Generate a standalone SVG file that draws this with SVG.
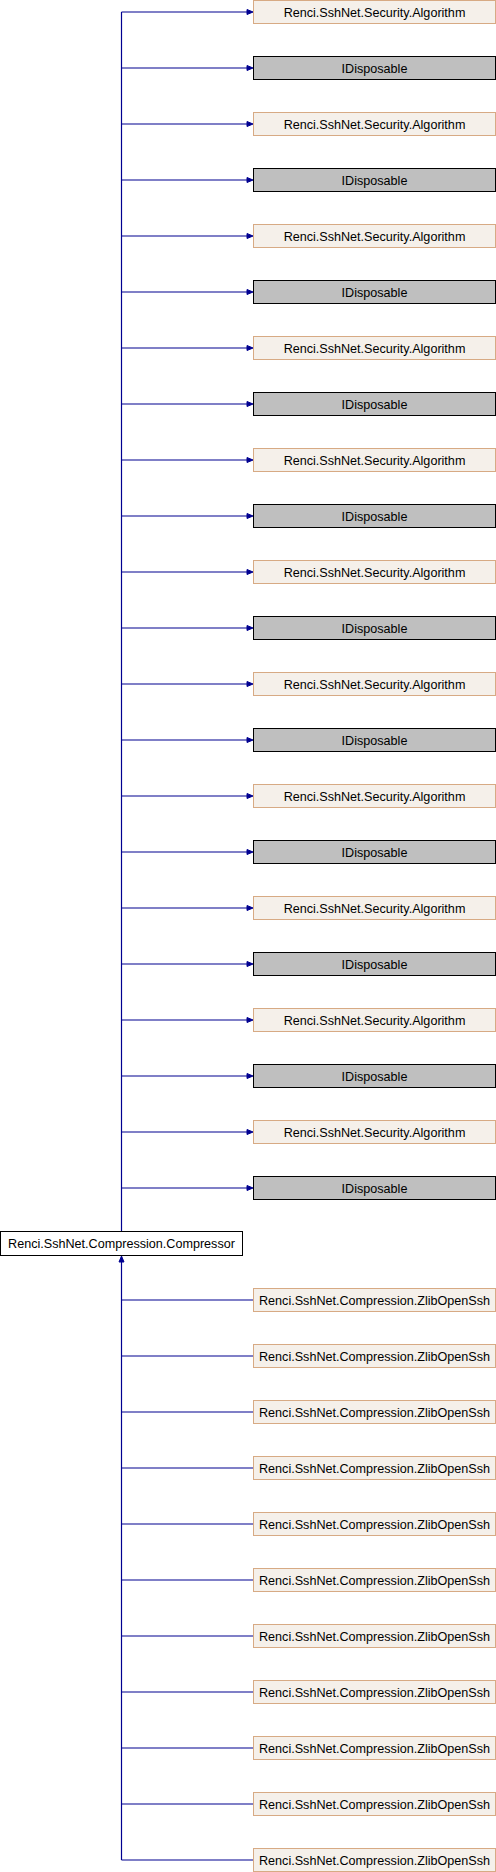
<svg xmlns="http://www.w3.org/2000/svg" xmlns:xlink="http://www.w3.org/1999/xlink" width="496" height="1872" viewBox="0 0 496 1872">
<style>
.alg{fill:#f5f0ea;stroke:#d7aa84;stroke-width:1}
.idp{fill:#bfbfbf;stroke:#000;stroke-width:1}
.cmp{fill:#fff;stroke:#000;stroke-width:1}
.zl{fill:#f5f0ea;stroke:#d7aa84;stroke-width:1}
text{font-family:"Liberation Sans",Arial,sans-serif;font-size:12.6px;fill:#000;text-anchor:middle}
.e{fill:none;stroke:#000090;stroke-width:1.2}
.ah{fill:#000090;stroke:#000090;stroke-width:1}
</style>
<defs>
<polygon id="arR" class="ah" points="247,-2.5 253,0 247,2.5"/>
</defs>
<rect width="496" height="1872" fill="#fff"/>
<g id="edges">
<path class="e" d="M121.5,1231.5V12"/>
<path class="e" d="M121.5,12H247M121.5,68H247M121.5,124H247M121.5,180H247M121.5,236H247M121.5,292H247M121.5,348H247M121.5,404H247M121.5,460H247M121.5,516H247M121.5,572H247M121.5,628H247M121.5,684H247M121.5,740H247M121.5,796H247M121.5,852H247M121.5,908H247M121.5,964H247M121.5,1020H247M121.5,1076H247M121.5,1132H247M121.5,1188H247"/>
<use href="#arR" y="12"/><use href="#arR" y="68"/><use href="#arR" y="124"/><use href="#arR" y="180"/><use href="#arR" y="236"/><use href="#arR" y="292"/><use href="#arR" y="348"/><use href="#arR" y="404"/><use href="#arR" y="460"/><use href="#arR" y="516"/><use href="#arR" y="572"/><use href="#arR" y="628"/><use href="#arR" y="684"/><use href="#arR" y="740"/><use href="#arR" y="796"/><use href="#arR" y="852"/><use href="#arR" y="908"/><use href="#arR" y="964"/><use href="#arR" y="1020"/><use href="#arR" y="1076"/><use href="#arR" y="1132"/><use href="#arR" y="1188"/>
<path class="e" d="M121.5,1262V1860"/>
<polygon class="ah" points="119,1262 121.5,1256 124,1262"/>
<path class="e" d="M121.5,1300H253.5M121.5,1356H253.5M121.5,1412H253.5M121.5,1468H253.5M121.5,1524H253.5M121.5,1580H253.5M121.5,1636H253.5M121.5,1692H253.5M121.5,1748H253.5M121.5,1804H253.5M121.5,1860H253.5"/>
</g>
<g id="n0"><rect class="alg" x="253.5" y="0.5" width="242" height="23"/><text x="374.5" y="16.5">Renci.SshNet.Security.Algorithm</text></g>
<g id="n1"><rect class="idp" x="253.5" y="56.5" width="242" height="23"/><text x="374.5" y="72.5">IDisposable</text></g>
<g id="n2"><rect class="alg" x="253.5" y="112.5" width="242" height="23"/><text x="374.5" y="128.5">Renci.SshNet.Security.Algorithm</text></g>
<g id="n3"><rect class="idp" x="253.5" y="168.5" width="242" height="23"/><text x="374.5" y="184.5">IDisposable</text></g>
<g id="n4"><rect class="alg" x="253.5" y="224.5" width="242" height="23"/><text x="374.5" y="240.5">Renci.SshNet.Security.Algorithm</text></g>
<g id="n5"><rect class="idp" x="253.5" y="280.5" width="242" height="23"/><text x="374.5" y="296.5">IDisposable</text></g>
<g id="n6"><rect class="alg" x="253.5" y="336.5" width="242" height="23"/><text x="374.5" y="352.5">Renci.SshNet.Security.Algorithm</text></g>
<g id="n7"><rect class="idp" x="253.5" y="392.5" width="242" height="23"/><text x="374.5" y="408.5">IDisposable</text></g>
<g id="n8"><rect class="alg" x="253.5" y="448.5" width="242" height="23"/><text x="374.5" y="464.5">Renci.SshNet.Security.Algorithm</text></g>
<g id="n9"><rect class="idp" x="253.5" y="504.5" width="242" height="23"/><text x="374.5" y="520.5">IDisposable</text></g>
<g id="n10"><rect class="alg" x="253.5" y="560.5" width="242" height="23"/><text x="374.5" y="576.5">Renci.SshNet.Security.Algorithm</text></g>
<g id="n11"><rect class="idp" x="253.5" y="616.5" width="242" height="23"/><text x="374.5" y="632.5">IDisposable</text></g>
<g id="n12"><rect class="alg" x="253.5" y="672.5" width="242" height="23"/><text x="374.5" y="688.5">Renci.SshNet.Security.Algorithm</text></g>
<g id="n13"><rect class="idp" x="253.5" y="728.5" width="242" height="23"/><text x="374.5" y="744.5">IDisposable</text></g>
<g id="n14"><rect class="alg" x="253.5" y="784.5" width="242" height="23"/><text x="374.5" y="800.5">Renci.SshNet.Security.Algorithm</text></g>
<g id="n15"><rect class="idp" x="253.5" y="840.5" width="242" height="23"/><text x="374.5" y="856.5">IDisposable</text></g>
<g id="n16"><rect class="alg" x="253.5" y="896.5" width="242" height="23"/><text x="374.5" y="912.5">Renci.SshNet.Security.Algorithm</text></g>
<g id="n17"><rect class="idp" x="253.5" y="952.5" width="242" height="23"/><text x="374.5" y="968.5">IDisposable</text></g>
<g id="n18"><rect class="alg" x="253.5" y="1008.5" width="242" height="23"/><text x="374.5" y="1024.5">Renci.SshNet.Security.Algorithm</text></g>
<g id="n19"><rect class="idp" x="253.5" y="1064.5" width="242" height="23"/><text x="374.5" y="1080.5">IDisposable</text></g>
<g id="n20"><rect class="alg" x="253.5" y="1120.5" width="242" height="23"/><text x="374.5" y="1136.5">Renci.SshNet.Security.Algorithm</text></g>
<g id="n21"><rect class="idp" x="253.5" y="1176.5" width="242" height="23"/><text x="374.5" y="1192.5">IDisposable</text></g>
<g id="compressor"><rect class="cmp" x="0.5" y="1231.5" width="242" height="24"/><text x="121.5" y="1248">Renci.SshNet.Compression.Compressor</text></g>
<g id="z0"><rect class="zl" x="253.5" y="1288.5" width="242" height="23"/><text x="374.5" y="1304.5">Renci.SshNet.Compression.ZlibOpenSsh</text></g>
<g id="z1"><rect class="zl" x="253.5" y="1344.5" width="242" height="23"/><text x="374.5" y="1360.5">Renci.SshNet.Compression.ZlibOpenSsh</text></g>
<g id="z2"><rect class="zl" x="253.5" y="1400.5" width="242" height="23"/><text x="374.5" y="1416.5">Renci.SshNet.Compression.ZlibOpenSsh</text></g>
<g id="z3"><rect class="zl" x="253.5" y="1456.5" width="242" height="23"/><text x="374.5" y="1472.5">Renci.SshNet.Compression.ZlibOpenSsh</text></g>
<g id="z4"><rect class="zl" x="253.5" y="1512.5" width="242" height="23"/><text x="374.5" y="1528.5">Renci.SshNet.Compression.ZlibOpenSsh</text></g>
<g id="z5"><rect class="zl" x="253.5" y="1568.5" width="242" height="23"/><text x="374.5" y="1584.5">Renci.SshNet.Compression.ZlibOpenSsh</text></g>
<g id="z6"><rect class="zl" x="253.5" y="1624.5" width="242" height="23"/><text x="374.5" y="1640.5">Renci.SshNet.Compression.ZlibOpenSsh</text></g>
<g id="z7"><rect class="zl" x="253.5" y="1680.5" width="242" height="23"/><text x="374.5" y="1696.5">Renci.SshNet.Compression.ZlibOpenSsh</text></g>
<g id="z8"><rect class="zl" x="253.5" y="1736.5" width="242" height="23"/><text x="374.5" y="1752.5">Renci.SshNet.Compression.ZlibOpenSsh</text></g>
<g id="z9"><rect class="zl" x="253.5" y="1792.5" width="242" height="23"/><text x="374.5" y="1808.5">Renci.SshNet.Compression.ZlibOpenSsh</text></g>
<g id="z10"><rect class="zl" x="253.5" y="1848.5" width="242" height="23"/><text x="374.5" y="1864.5">Renci.SshNet.Compression.ZlibOpenSsh</text></g>
</svg>
